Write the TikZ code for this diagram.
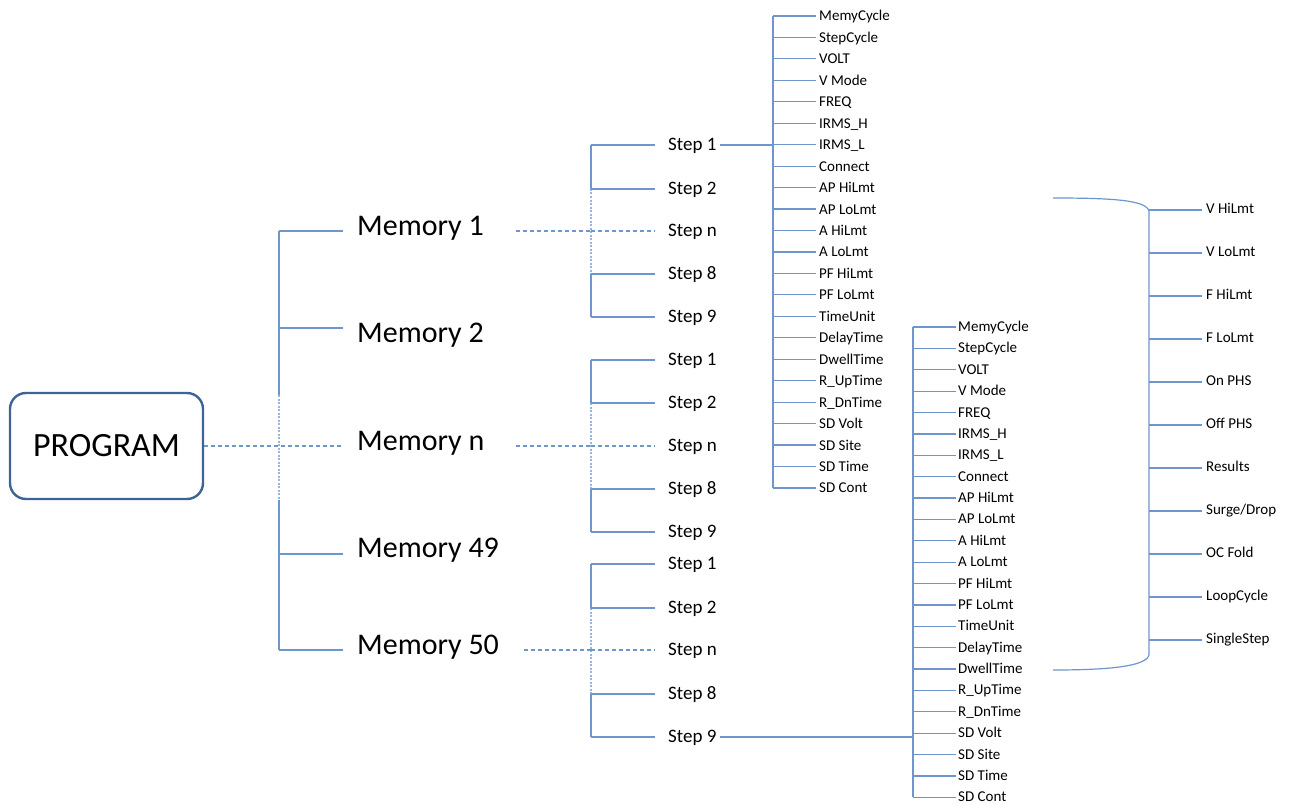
\documentclass[tikz,border=0pt]{standalone}
\usepackage{fontspec}
\setmainfont{Carlito}
\definecolor{ln}{RGB}{111,150,204}
\definecolor{bx}{RGB}{62,100,150}
\tikzset{
 conn/.style={draw=ln, line width=1.2pt},
 dsh/.style={draw=ln, line width=1.2pt, dash pattern=on 4pt off 3pt},
 dotl/.style={draw=ln!70, line width=1.1pt, dash pattern=on 2pt off 1.5pt},
 memlbl/.style={anchor=base west, inner sep=0pt, font=\fontsize{30}{32}\selectfont},
 steplbl/.style={anchor=base west, inner sep=0pt, font=\fontsize{19}{21}\selectfont},
 itemlbl/.style={anchor=base west, inner sep=0pt, font=\fontsize{15}{17}\selectfont},
 progbox/.style={draw=bx, line width=2.4pt, rounded corners=16pt, minimum width=193pt, minimum height=106pt, font=\fontsize{34}{36}\selectfont, inner sep=0pt},
}
\begin{document}
\begin{tikzpicture}[x=1pt,y=-1pt]
\useasboundingbox (0,0) rectangle (1292,805);
% root
\node[progbox] (prog) at (106.5,446) {PROGRAM};
% memories
\foreach \i/\y/\ly/\t in {1/235/231/Memory 1, 2/342/328/Memory 2, 3/450/446/Memory n, 4/557/554/Memory 49, 5/654/650/Memory 50}{
  \node[memlbl] (m\i) at (357,\y) {\t};
  \coordinate (mj\i) at (279,\ly);
}
\coordinate (mb1) at (279,395);
\coordinate (mb2) at (279,500);
\draw[conn] (mj1) -- (mb1);
\draw[dotl] (mb1) -- (mb2);
\draw[conn] (mb2) -- (mj5);
\foreach \i in {1,2,4,5}{
  \draw[conn, shorten >=14pt] (mj\i) -- (mj\i -| m\i.west);
}
\draw[dsh, shorten >=14pt] (prog.east |- mj3) -- (mj3 -| m3.west);
% step groups
\foreach \g/\ya/\yb/\yc/\yd/\ye in {1/145/189/231/274/317, 2/360/403/446/489/532, 3/564/608/650/694/737}{
  \foreach \k/\yy/\t in {1/\ya/Step 1, 2/\yb/Step 2, 3/\yc/Step n, 4/\yd/Step 8, 5/\ye/Step 9}{
    \coordinate (sj\g-\k) at (591,\yy);
    \node[steplbl] (s\g-\k) at (668,\yy+5.5) {\t};
  }
  \draw[conn] (sj\g-1) -- (sj\g-2);
  \draw[dotl] (sj\g-2) -- (sj\g-4);
  \draw[conn] (sj\g-4) -- (sj\g-5);
  \foreach \k in {1,2,4,5}{
    \draw[conn, shorten >=13pt] (sj\g-\k) -- (sj\g-\k -| s\g-\k.west);
  }
  \draw[dsh, shorten >=13pt] (sj\g-3) -- (sj\g-3 -| s\g-3.west);
}
\draw[dsh, shorten <=32pt] (sj1-3 -| m1.east) -- (sj1-3);
\draw[dsh, shorten <=32pt] (sj2-3 -| m3.east) -- (sj2-3);
\draw[dsh, shorten <=25pt] (sj3-3 -| m5.east) -- (sj3-3);
% parameter list 1
\foreach \t [count=\k from 0] in {MemyCycle,StepCycle,VOLT,V Mode,FREQ,IRMS\_H,IRMS\_L,Connect,AP HiLmt,AP LoLmt,A HiLmt,A LoLmt,PF HiLmt,PF LoLmt,TimeUnit,DelayTime,DwellTime,R\_UpTime,R\_DnTime,SD Volt,SD Site,SD Time,SD Cont}{
  \pgfmathsetmacro\yy{16+21.45*\k}
  \coordinate (a\k) at (773,\yy);
  \node[itemlbl] (la\k) at (819,\yy+5) {\t};
  \draw[conn, shorten >=3pt] (a\k) -- (a\k -| la\k.west);
}
\draw[conn] (a0) -- (a22);
\draw[conn, shorten <=3pt] (sj1-1 -| s1-1.east) -- (sj1-1 -| a6);
% parameter list 2
\foreach \t [count=\k from 0] in {MemyCycle,StepCycle,VOLT,V Mode,FREQ,IRMS\_H,IRMS\_L,Connect,AP HiLmt,AP LoLmt,A HiLmt,A LoLmt,PF HiLmt,PF LoLmt,TimeUnit,DelayTime,DwellTime,R\_UpTime,R\_DnTime,SD Volt,SD Site,SD Time,SD Cont}{
  \pgfmathsetmacro\yy{327+21.38*\k}
  \coordinate (b\k) at (913,\yy);
  \node[itemlbl] (lb\k) at (958,\yy+4.5) {\t};
  \draw[conn, shorten >=2pt] (b\k) -- (b\k -| lb\k.west);
}
\draw[conn] (b0) -- (b22);
\draw[conn, shorten <=3pt] (sj3-5 -| s3-5.east) -- (sj3-5 -| b19);
% bracket
\coordinate (br1) at (1053,198);
\coordinate (br2) at (1053,670);
\draw[conn] (br1) .. controls (1112,198) and (1146,200) .. (1149,211) -- (1149,655) .. controls (1146,666) and (1112,670) .. (br2);
% right list
\foreach \t [count=\k from 0] in {V HiLmt,V LoLmt,F HiLmt,F LoLmt,On PHS,Off PHS,Results,Surge/Drop,OC Fold,LoopCycle,SingleStep}{
  \pgfmathsetmacro\yy{210+43*\k}
  \coordinate (r\k) at (1149,\yy);
  \node[itemlbl] (lr\k) at (1206,\yy+3) {\t};
  \draw[conn, shorten >=4pt] (r\k) -- (r\k -| lr\k.west);
}
\end{tikzpicture}
\end{document}
